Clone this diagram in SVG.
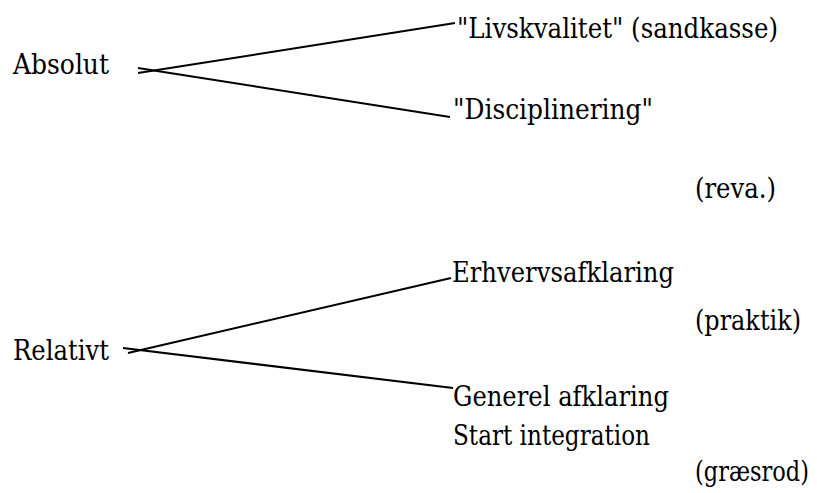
<svg xmlns="http://www.w3.org/2000/svg" width="817" height="493" viewBox="0 0 817 493">
<style>
.t{font-family:'DejaVu Serif',serif;font-size:27.5px;fill:#000}
line{stroke:#000;stroke-width:2;fill:none}
</style>
<rect width="817" height="493" fill="#fff"/>
<g id="connectors">
<line x1="138" y1="73" x2="455" y2="23"/>
<line x1="138" y1="68" x2="450" y2="117"/>
<line x1="128" y1="353" x2="451" y2="278"/>
<line x1="123" y1="348" x2="453" y2="388"/>
</g>
<g class="t">
<g id="absolut"><text x="13" y="74" textLength="96" lengthAdjust="spacingAndGlyphs">Absolut</text></g>
<g id="livskvalitet"><text x="457" y="38" textLength="321" lengthAdjust="spacingAndGlyphs">"Livskvalitet" (sandkasse)</text></g>
<g id="disciplinering"><text x="453" y="119" textLength="200" lengthAdjust="spacingAndGlyphs">"Disciplinering"</text></g>
<g id="reva"><text x="695" y="198" textLength="81" lengthAdjust="spacingAndGlyphs">(reva.)</text></g>
<g id="relativt"><text x="13" y="360" textLength="96" lengthAdjust="spacingAndGlyphs">Relativt</text></g>
<g id="erhverv"><text x="452" y="282" textLength="222" lengthAdjust="spacingAndGlyphs">Erhvervsafklaring</text></g>
<g id="praktik"><text x="695" y="330" textLength="106" lengthAdjust="spacingAndGlyphs">(praktik)</text></g>
<g id="generel"><text x="453" y="406" textLength="216" lengthAdjust="spacingAndGlyphs">Generel afklaring</text><text x="453" y="445" textLength="197" lengthAdjust="spacingAndGlyphs">Start integration</text></g>
<g id="graesrod"><text x="695" y="481" textLength="114" lengthAdjust="spacingAndGlyphs">(græsrod)</text></g>
</g>
</svg>
